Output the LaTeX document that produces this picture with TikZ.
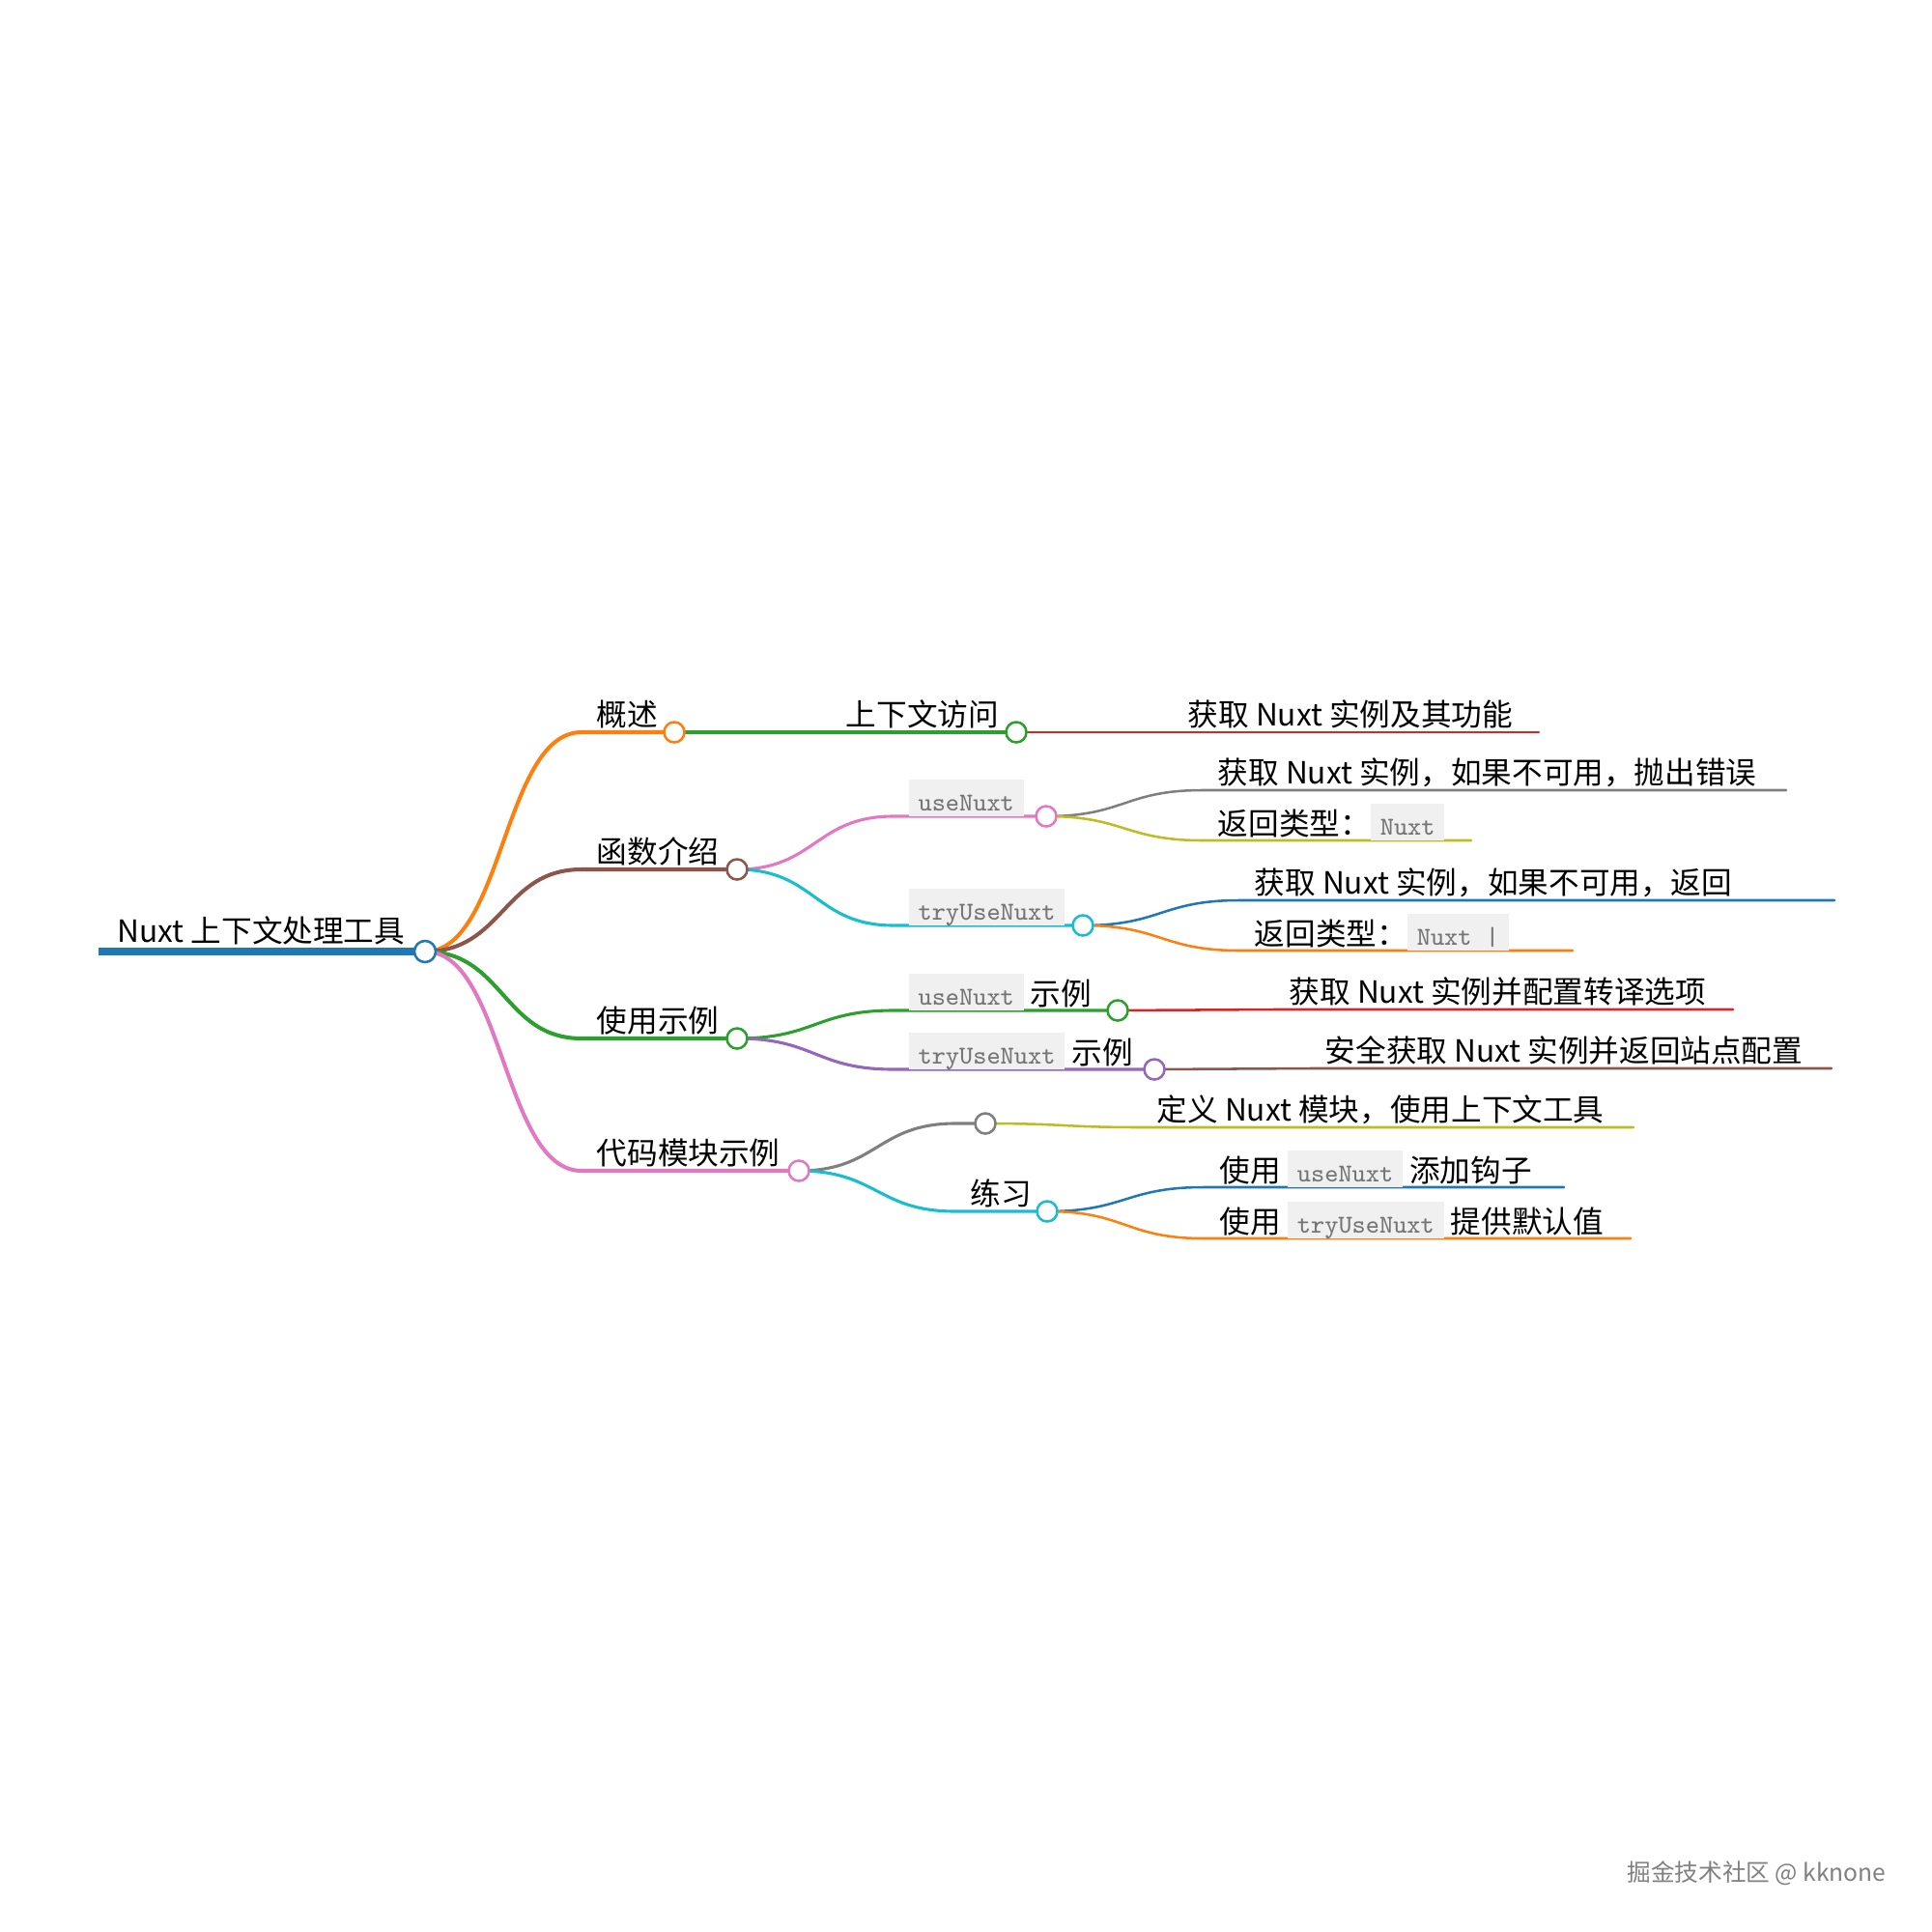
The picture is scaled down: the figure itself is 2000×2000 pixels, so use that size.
\documentclass[tikz,border=0pt]{standalone}
\usepackage{fontspec}
\setmainfont{Noto Sans CJK SC}
\usetikzlibrary{backgrounds,positioning}
\definecolor{mmblue}{HTML}{1F77B4}
\definecolor{mmorange}{HTML}{FF7F0E}
\definecolor{mmgreen}{HTML}{2CA02C}
\definecolor{mmred}{HTML}{D62728}
\definecolor{mmpurple}{HTML}{9467BD}
\definecolor{mmbrown}{HTML}{8C564B}
\definecolor{mmpink}{HTML}{E377C2}
\definecolor{mmgray}{HTML}{7F7F7F}
\definecolor{mmolive}{HTML}{BCBD22}
\definecolor{mmcyan}{HTML}{17BECF}
\definecolor{codebg}{HTML}{F0F0F0}
\definecolor{codefg}{HTML}{757575}
\newcommand{\nxcode}[1]{{\setlength{\fboxsep}{0pt}\colorbox{codebg}{\hspace{2.8pt}\rule[-1.6pt]{0pt}{10.6pt}\fontsize{7.6pt}{9pt}\ttfamily\color{codefg}#1\hspace{2.8pt}}}}
\tikzset{
  txt/.style={anchor=base west, inner sep=0pt, font=\fontsize{9pt}{11pt}\selectfont},
  dot/.style={circle, draw=#1, fill=white, line width=0.72pt, minimum size=0.21cm, inner sep=0pt},
  rootline/.style={line width=2.15pt, mmblue},
  l1/.style={line width=1.15pt, line cap=round},
  l2/.style={line width=0.88pt, line cap=round},
  l3/.style={line width=0.72pt, line cap=round},
}

\begin{document}
\begin{tikzpicture}[x=0.01cm, y=-0.01cm]
  \useasboundingbox (0,0) rectangle (2000,2000);

  % Root
  \coordinate (root-s) at (102,985);
  \node[dot=mmblue, minimum size=0.22cm] (root) at (440,985) {};
  \node[txt] (root-t) at (121,975) {Nuxt 上下文处理工具};

  % Level 1
  \coordinate (ovw-s) at (602,758);
  \node[dot=mmorange] (ovw) at (698,758) {};
  \node[txt] (ovw-t) at (617,751) {概述};

  \coordinate (fn-s) at (602,900);
  \node[dot=mmbrown] (fn) at (763,900) {};
  \node[txt] (fn-t) at (617,893) {函数介绍};

  \coordinate (use-s) at (602,1075);
  \node[dot=mmgreen] (use) at (763,1075) {};
  \node[txt] (use-t) at (617,1068) {使用示例};

  \coordinate (mod-s) at (602,1212);
  \node[dot=mmpink] (mod) at (827,1212) {};
  \node[txt] (mod-t) at (617,1205) {代码模块示例};

  % Level 2
  \coordinate (ctx-s) at (860,758);
  \node[dot=mmgreen] (ctx) at (1052,758) {};
  \node[txt] (ctx-t) at (875,751) {上下文访问};

  \coordinate (un-s) at (925,845);
  \node[dot=mmpink] (un) at (1083,845) {};
  \node[txt] (un-t) at (940,839) {\nxcode{useNuxt}};

  \coordinate (tun-s) at (925,958);
  \node[dot=mmcyan] (tun) at (1121,958) {};
  \node[txt] (tun-t) at (940,952) {\nxcode{tryUseNuxt}};

  \coordinate (unx-s) at (925,1046);
  \node[dot=mmgreen] (unx) at (1157,1046) {};
  \node[txt] (unx-t) at (940,1040) {\nxcode{useNuxt} 示例};

  \coordinate (tunx-s) at (925,1107);
  \node[dot=mmpurple] (tunx) at (1195,1107) {};
  \node[txt] (tunx-t) at (940,1101) {\nxcode{tryUseNuxt} 示例};

  \coordinate (blank-s) at (989,1163);
  \node[dot=mmgray] (blank) at (1020,1163) {};

  \coordinate (prac-s) at (989,1254);
  \node[dot=mmcyan] (prac) at (1084,1254) {};
  \node[txt] (prac-t) at (1004,1247) {练习};

  % Level 3 (leaves)
  \coordinate (ctxA-s) at (1214,758);  \coordinate (ctxA) at (1593,758);
  \node[txt] (ctxA-t) at (1229,751) {获取 Nuxt 实例及其功能};

  \coordinate (unA-s) at (1245,818);  \coordinate (unA) at (1849,818);
  \node[txt] (unA-t) at (1260,811) {获取 Nuxt 实例，如果不可用，抛出错误};
  \coordinate (unB-s) at (1245,870);  \coordinate (unB) at (1523,870);
  \node[txt] (unB-t) at (1260,864) {返回类型：\nxcode{Nuxt}};

  \coordinate (tunA-s) at (1283,932);  \coordinate (tunA) at (1899,932);
  \node[txt] (tunA-t) at (1298,925) {获取 Nuxt 实例，如果不可用，返回};
  \coordinate (tunB-s) at (1283,984);  \coordinate (tunB) at (1628,984);
  \node[txt] (tunB-t) at (1298,978) {返回类型：\nxcode{Nuxt |}};

  \coordinate (unxA-s) at (1319,1045);  \coordinate (unxA) at (1794,1045);
  \node[txt] (unxA-t) at (1334,1038) {获取 Nuxt 实例并配置转译选项};

  \coordinate (tunxA-s) at (1357,1106);  \coordinate (tunxA) at (1896,1106);
  \node[txt] (tunxA-t) at (1371,1099) {安全获取 Nuxt 实例并返回站点配置};

  \coordinate (blankA-s) at (1182,1167);  \coordinate (blankA) at (1691,1167);
  \node[txt] (blankA-t) at (1197,1160) {定义 Nuxt 模块，使用上下文工具};

  \coordinate (pracA-s) at (1246,1229);  \coordinate (pracA) at (1619,1229);
  \node[txt] (pracA-t) at (1262,1223) {使用 \nxcode{useNuxt} 添加钩子};
  \coordinate (pracB-s) at (1246,1282);  \coordinate (pracB) at (1688,1282);
  \node[txt] (pracB-t) at (1262,1276) {使用 \nxcode{tryUseNuxt} 提供默认值};

  % Watermark
  \node[anchor=base east, inner sep=0pt, text=black!50, font=\fontsize{7pt}{8pt}\selectfont] (mark) at (1953,1947) {掘金技术社区 @ kknone};

  % Connectors
  \begin{scope}[on background layer]
    \draw[rootline] (root-s) -- (root.center);

    \draw[l1, mmorange] (root.center) .. controls +(81,0) and +(-81,0) .. (ovw-s) -- (ovw.center);
    \draw[l1, mmbrown] (root.center) .. controls +(81,0) and +(-81,0) .. (fn-s) -- (fn.center);
    \draw[l1, mmgreen] (root.center) .. controls +(81,0) and +(-81,0) .. (use-s) -- (use.center);
    \draw[l1, mmpink] (root.center) .. controls +(81,0) and +(-81,0) .. (mod-s) -- (mod.center);

    \draw[l2, mmgreen] (ovw.center) .. controls +(81,0) and +(-81,0) .. (ctx-s) -- (ctx.center);
    \draw[l2, mmpink] (fn.center) .. controls +(81,0) and +(-81,0) .. (un-s) -- (un.center);
    \draw[l2, mmcyan] (fn.center) .. controls +(81,0) and +(-81,0) .. (tun-s) -- (tun.center);
    \draw[l2, mmgreen] (use.center) .. controls +(81,0) and +(-81,0) .. (unx-s) -- (unx.center);
    \draw[l2, mmpurple] (use.center) .. controls +(81,0) and +(-81,0) .. (tunx-s) -- (tunx.center);
    \draw[l2, mmgray] (mod.center) .. controls +(81,0) and +(-81,0) .. (blank-s) -- (blank.center);
    \draw[l2, mmcyan] (mod.center) .. controls +(81,0) and +(-81,0) .. (prac-s) -- (prac.center);

    \draw[l3, mmred] (ctx.center) .. controls +(81,0) and +(-81,0) .. (ctxA-s) -- (ctxA);
    \draw[l3, mmgray] (un.center) .. controls +(81,0) and +(-81,0) .. (unA-s) -- (unA);
    \draw[l3, mmolive] (un.center) .. controls +(81,0) and +(-81,0) .. (unB-s) -- (unB);
    \draw[l3, mmblue] (tun.center) .. controls +(81,0) and +(-81,0) .. (tunA-s) -- (tunA);
    \draw[l3, mmorange] (tun.center) .. controls +(81,0) and +(-81,0) .. (tunB-s) -- (tunB);
    \draw[l3, mmred] (unx.center) .. controls +(81,0) and +(-81,0) .. (unxA-s) -- (unxA);
    \draw[l3, mmbrown] (tunx.center) .. controls +(81,0) and +(-81,0) .. (tunxA-s) -- (tunxA);
    \draw[l3, mmolive] (blank.center) .. controls +(81,0) and +(-81,0) .. (blankA-s) -- (blankA);
    \draw[l3, mmblue] (prac.center) .. controls +(81,0) and +(-81,0) .. (pracA-s) -- (pracA);
    \draw[l3, mmorange] (prac.center) .. controls +(81,0) and +(-81,0) .. (pracB-s) -- (pracB);
  \end{scope}
\end{tikzpicture}
\end{document}
